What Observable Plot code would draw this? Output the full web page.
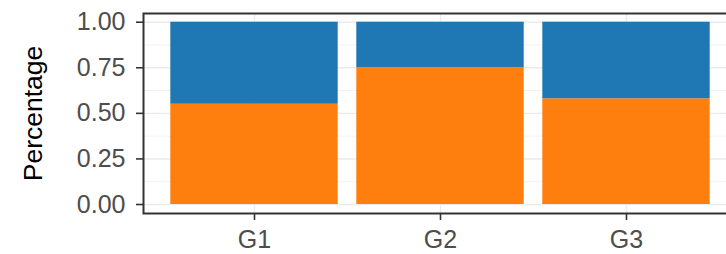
<!DOCTYPE html>
<html>
<head>
<meta charset="utf-8">
<script src="https://cdn.jsdelivr.net/npm/d3@7"></script>
<script src="https://cdn.jsdelivr.net/npm/@observablehq/plot@0.6"></script>
<style>
  html, body { margin: 0; padding: 0; background: #fff; overflow: hidden; }
  #chart { width: 726px; height: 254px; overflow: hidden; }
  #chart svg { max-width: none !important; width: 760px; height: 254px; display: block; }
</style>
</head>
<body>
<div id="chart"></div>
<script>
const groups = ["G1", "G2", "G3"];
const seriesNames = ["Share", "Remainder"];
const shareValues = [0.55, 0.75, 0.58];
const remainderValues = [0.45, 0.25, 0.42];
const majorTicks = [0, 0.25, 0.5, 0.75, 1];
const minorTicks = [0.125, 0.375, 0.625, 0.875];
const seriesColors = ["#FF7F0E", "#1F77B4"];

const data = [];
groups.forEach((g, i) => {
  data.push({group: g, series: seriesNames[0], value: shareValues[i]});
  data.push({group: g, series: seriesNames[1], value: remainderValues[i]});
});

const font = "'Liberation Sans', Arial, sans-serif";

const chart = Plot.plot({
  width: 760,
  height: 254,
  marginLeft: 143,
  marginRight: 22,
  marginTop: 13,
  marginBottom: 41,
  style: {fontFamily: font, background: "#fff", maxWidth: "none"},
  x: {domain: groups, range: [161, 719], paddingInner: 0.1, paddingOuter: 0.05, round: false, axis: null},
  y: {domain: [0, 1], range: [204, 21.7], axis: null},
  color: {domain: seriesNames, range: seriesColors, legend: false},
  marks: [
    Plot.gridY(minorTicks, {stroke: "#EBEBEB", strokeOpacity: 1, strokeWidth: 0.7}),
    Plot.gridY(majorTicks, {stroke: "#EBEBEB", strokeOpacity: 1, strokeWidth: 1.4}),
    Plot.gridX(groups, {stroke: "#EBEBEB", strokeOpacity: 1, strokeWidth: 1.4}),
    Plot.barY(data, {x: "group", y: "value", fill: "series", order: seriesNames}),
    Plot.axisY(majorTicks, {
      label: null,
      tickFormat: d3.format(".2f"), tickSize: 7, tickPadding: 11,
      stroke: "#333333", strokeWidth: 1.6, fill: "#4D4D4D", fontSize: 25
    }),
    Plot.axisX(groups, {
      label: null,
      tickSize: 7, tickPadding: 10,
      stroke: "#333333", strokeWidth: 1.6, fill: "#4D4D4D", fontSize: 25
    }),
    Plot.text(["Percentage"], {
      frameAnchor: "left", dx: -110, rotate: -90, textAnchor: "middle",
      fontSize: 26.5, fill: "#000"
    }),
    Plot.frame({stroke: "#333333", strokeWidth: 2})
  ]
});
document.getElementById("chart").appendChild(chart);
</script>
</body>
</html>
